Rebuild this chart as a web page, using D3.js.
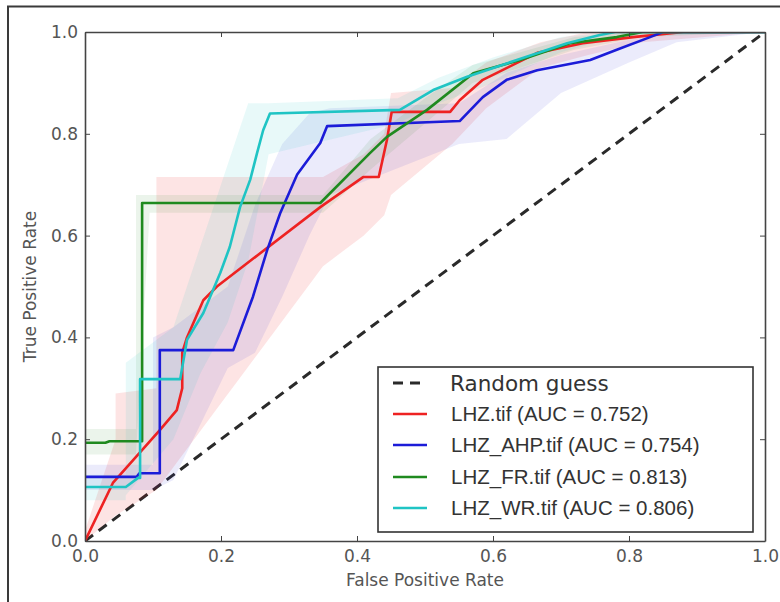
<!DOCTYPE html>
<html>
<head>
<meta charset="utf-8">
<script src="https://cdn.jsdelivr.net/npm/d3@7"></script>
<style>
  html, body { margin: 0; padding: 0; background: #fff; }
  svg { display: block; }
</style>
</head>
<body>
<svg id="chart" width="780" height="602"></svg>
<script>
// ---------- DATA ----------
const tickValues = [0, 0.2, 0.4, 0.6, 0.8, 1.0];
const seriesNames = ["LHZ.tif", "LHZ_AHP.tif", "LHZ_FR.tif", "LHZ_WR.tif"];
const aucValues = [0.752, 0.754, 0.813, 0.806];

// mean ROC curves
const redFpr = [0, 0.041, 0.11, 0.135, 0.143, 0.143, 0.15, 0.174, 0.194, 0.346, 0.409, 0.432, 0.444, 0.451, 0.537, 0.551, 0.585, 0.665, 0.732, 0.806, 0.88, 1];
const redTpr = [0, 0.114, 0.218, 0.257, 0.30, 0.37, 0.40, 0.473, 0.50, 0.656, 0.715, 0.715, 0.788, 0.843, 0.843, 0.866, 0.906, 0.959, 0.978, 0.99, 1, 1];

const blueFpr = [0, 0.076, 0.08, 0.11, 0.11, 0.218, 0.247, 0.268, 0.287, 0.312, 0.346, 0.356, 0.551, 0.585, 0.62, 0.665, 0.743, 0.782, 0.831, 0.85, 1];
const blueTpr = [0.126, 0.126, 0.133, 0.133, 0.375, 0.375, 0.48, 0.572, 0.644, 0.72, 0.782, 0.815, 0.825, 0.872, 0.906, 0.925, 0.945, 0.965, 0.99, 1, 1];

const greenFpr = [0, 0.03, 0.036, 0.084, 0.084, 0.346, 0.419, 0.444, 0.503, 0.571, 0.64, 0.713, 0.782, 0.82, 1];
const greenTpr = [0.193, 0.193, 0.196, 0.196, 0.664, 0.664, 0.762, 0.794, 0.847, 0.919, 0.945, 0.978, 0.99, 1, 1];

const cyanFpr = [0, 0.06, 0.078, 0.081, 0.081, 0.14, 0.15, 0.174, 0.199, 0.213, 0.228, 0.243, 0.253, 0.262, 0.272, 0.463, 0.512, 0.562, 0.635, 0.709, 0.757, 0.78, 1];
const cyanTpr = [0.106, 0.106, 0.124, 0.124, 0.318, 0.318, 0.395, 0.448, 0.527, 0.578, 0.656, 0.71, 0.762, 0.807, 0.84, 0.847, 0.886, 0.912, 0.945, 0.978, 0.994, 1, 1];

// std bands
const redBandX  = [0, 0.045, 0.045, 0.105, 0.105, 0.35, 0.41, 0.44, 0.45, 0.54, 0.59, 0.67, 0.74, 0.82, 1];
const redBandHi = [0.02, 0.2, 0.29, 0.30, 0.715, 0.715, 0.76, 0.80, 0.88, 0.89, 0.94, 0.98, 1, 1, 1];
const redBandLo = [0, 0.05, 0.05, 0.10, 0.10, 0.54, 0.60, 0.64, 0.68, 0.78, 0.85, 0.93, 0.955, 0.98, 1];

const blueBandX  = [0, 0.10, 0.10, 0.13, 0.21, 0.25, 0.29, 0.33, 0.36, 0.55, 0.62, 0.70, 0.80, 0.87, 1];
const blueBandHi = [0.15, 0.15, 0.40, 0.42, 0.50, 0.66, 0.78, 0.84, 0.85, 0.86, 0.92, 0.955, 0.985, 1, 1];
const blueBandLo = [0.10, 0.10, 0.10, 0.12, 0.34, 0.37, 0.48, 0.60, 0.68, 0.78, 0.79, 0.88, 0.94, 0.98, 1];

const greenBandX  = [0, 0.075, 0.075, 0.095, 0.35, 0.42, 0.50, 0.57, 0.64, 0.72, 0.82, 1];
const greenBandHi = [0.22, 0.22, 0.68, 0.68, 0.68, 0.79, 0.87, 0.935, 0.96, 0.99, 1, 1];
const greenBandLo = [0.17, 0.17, 0.17, 0.645, 0.645, 0.73, 0.82, 0.90, 0.93, 0.965, 0.99, 1];

const cyanBandX  = [0, 0.06, 0.06, 0.13, 0.17, 0.21, 0.24, 0.27, 0.46, 0.52, 0.60, 0.70, 0.78, 1];
const cyanBandHi = [0.13, 0.13, 0.35, 0.42, 0.58, 0.74, 0.86, 0.86, 0.87, 0.91, 0.95, 0.99, 1, 1];
const cyanBandLo = [0.08, 0.08, 0.09, 0.20, 0.33, 0.43, 0.55, 0.76, 0.82, 0.86, 0.90, 0.96, 0.99, 1];

const randomGuess = [0, 1];

// ---------- BUILD ----------
const colors = ["#ee2222", "#1c1cd8", "#1f8a1f", "#1fc4c4"];
const bandOpacity = [0.12, 0.09, 0.09, 0.10];
const series = [
  {fpr: redFpr, tpr: redTpr, bx: redBandX, hi: redBandHi, lo: redBandLo},
  {fpr: blueFpr, tpr: blueTpr, bx: blueBandX, hi: blueBandHi, lo: blueBandLo},
  {fpr: greenFpr, tpr: greenTpr, bx: greenBandX, hi: greenBandHi, lo: greenBandLo},
  {fpr: cyanFpr, tpr: cyanTpr, bx: cyanBandX, hi: cyanBandHi, lo: cyanBandLo}
].map((s, i) => ({...s, name: seriesNames[i], auc: aucValues[i], color: colors[i], op: bandOpacity[i]}));

const svg = d3.select("#chart");
const L = 85, R = 765, T = 32, B = 541;
const x = d3.scaleLinear().domain([0, 1]).range([L, R]);
const y = d3.scaleLinear().domain([0, 1]).range([B, T]);

// outer frame
svg.append("path").attr("d", "M8,602 V6.5 H780")
  .attr("fill", "none").attr("stroke", "#3a3a3a").attr("stroke-width", 2);

const plot = svg.append("g");
plot.append("clipPath").attr("id", "clip").append("rect")
  .attr("x", L).attr("y", T).attr("width", R - L).attr("height", B - T);
const inner = plot.append("g").attr("clip-path", "url(#clip)");

// dashed diagonal
inner.append("line")
  .attr("x1", x(randomGuess[0])).attr("y1", y(randomGuess[0]))
  .attr("x2", x(randomGuess[1])).attr("y2", y(randomGuess[1]))
  .attr("stroke", "#2a2a2a").attr("stroke-width", 3)
  .attr("stroke-dasharray", "10,7");

// bands
const area = d3.area().x(d => x(d[0])).y0(d => y(d[1])).y1(d => y(d[2]));
series.forEach(s => {
  const pts = s.bx.map((v, i) => [v, s.lo[i], s.hi[i]]);
  inner.append("path").attr("d", area(pts))
    .attr("fill", s.color).attr("fill-opacity", s.op).attr("stroke", "none");
});

// lines
const line = d3.line().x(d => x(d[0])).y(d => y(d[1]));
series.forEach(s => {
  const pts = s.fpr.map((v, i) => [v, s.tpr[i]]);
  inner.append("path").attr("d", line(pts))
    .attr("fill", "none").attr("stroke", s.color).attr("stroke-width", 2.6)
    .attr("stroke-linejoin", "round");
});

// axes
const fmt = d3.format(".1f");
const axStyle = g => {
  g.select(".domain").attr("stroke", "#444").attr("stroke-width", 1.6);
  g.selectAll(".tick line").attr("stroke", "#444").attr("stroke-width", 1);
  g.selectAll("text").attr("font-family", "DejaVu Sans").attr("font-size", 17).attr("fill", "#555");
};
svg.append("g").attr("transform", `translate(0,${B})`)
  .call(d3.axisBottom(x).tickValues(tickValues).tickFormat(fmt).tickSize(-5).tickSizeOuter(0).tickPadding(9))
  .call(axStyle);
svg.append("g").attr("transform", `translate(0,${T})`)
  .call(d3.axisTop(x).tickValues(tickValues).tickFormat("").tickSize(-5).tickSizeOuter(0))
  .call(axStyle);
svg.append("g").attr("transform", `translate(${L},0)`)
  .call(d3.axisLeft(y).tickValues(tickValues).tickFormat(fmt).tickSize(-5).tickSizeOuter(0).tickPadding(7))
  .call(axStyle);
svg.append("g").attr("transform", `translate(${R},0)`)
  .call(d3.axisRight(y).tickValues(tickValues).tickFormat("").tickSize(-5).tickSizeOuter(0))
  .call(axStyle);

// axis titles
svg.append("text").attr("x", (L + R) / 2).attr("y", 586)
  .attr("text-anchor", "middle").attr("font-family", "DejaVu Sans").attr("font-size", 17)
  .attr("fill", "#555").text("False Positive Rate");
svg.append("text").attr("transform", `translate(36,${(T + B) / 2}) rotate(-90)`)
  .attr("text-anchor", "middle").attr("font-family", "DejaVu Sans").attr("font-size", 17)
  .attr("fill", "#555").text("True Positive Rate");

// legend
const lg = svg.append("g");
lg.append("rect").attr("x", 378).attr("y", 367).attr("width", 375).attr("height", 165)
  .attr("fill", "#fff").attr("stroke", "#333").attr("stroke-width", 1.6);
const rowY = [383, 414, 445, 477, 508];
lg.append("line").attr("x1", 393).attr("x2", 427).attr("y1", rowY[0]).attr("y2", rowY[0])
  .attr("stroke", "#2a2a2a").attr("stroke-width", 3).attr("stroke-dasharray", "10,7");
lg.append("text").attr("x", 450).attr("y", rowY[0]).attr("dy", "0.36em")
  .attr("font-family", "DejaVu Sans").attr("font-size", 21.5).attr("fill", "#333").text("Random guess");
series.forEach((s, i) => {
  const yy = rowY[i + 1];
  lg.append("line").attr("x1", 393).attr("x2", 427).attr("y1", yy).attr("y2", yy)
    .attr("stroke", s.color).attr("stroke-width", 2.6);
  lg.append("text").attr("x", 451).attr("y", yy).attr("dy", "0.36em")
    .attr("font-family", "Liberation Sans").attr("font-size", 20.5).attr("fill", "#333")
    .text(`${s.name} (AUC = ${s.auc.toFixed(3)})`);
});
</script>
</body>
</html>
